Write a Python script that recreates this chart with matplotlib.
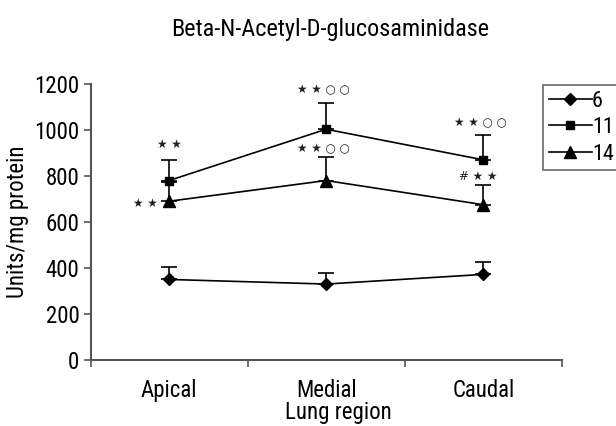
import numpy as np
import matplotlib
matplotlib.use("Agg")
import matplotlib.pyplot as plt
from matplotlib.lines import Line2D

plt.rcParams['font.family'] = ['Roboto Condensed', 'Liberation Sans', 'DejaVu Sans']

regions = ["Apical", "Medial", "Caudal"]
series_names = ["6", "11", "14"]
means = {
    "6": [350, 330, 372],
    "11": [780, 1003, 870],
    "14": [690, 780, 675],
}
errors = {
    "6": [55, 48, 55],
    "11": [90, 116, 108],
    "14": [85, 104, 86],
}
markers = {"6": "D", "11": "s", "14": "^"}
msizes = {"6": 6.5, "11": 5.5, "14": 8}

# significance marks: (x, y, text, ha)
marks = [
    (0, 935, "\u2605 \u2605", "center"),
    (-0.07, 680, "\u2605 \u2605", "right"),
    (0.98, 1174, "\u2605 \u2605 \u25cb \u25cb", "center"),
    (0.98, 917, "\u2605 \u2605 \u25cb \u25cb", "center"),
    (1.98, 1030, "\u2605 \u2605 \u25cb \u25cb", "center"),
    (1.97, 796, "# \u2605 \u2605", "center"),
]

fig = plt.figure(figsize=(6.16, 4.26), dpi=100)
ax = fig.add_axes([0.147, 0.155, 0.765, 0.648])

x = np.arange(len(regions))
for name in series_names:
    y = np.array(means[name])
    err = np.array(errors[name])
    ax.errorbar(x, y, yerr=[np.zeros_like(err), err], color="black",
                marker=markers[name], markersize=msizes[name], lw=1.2,
                elinewidth=1.2, capsize=5.5, capthick=1.2)

for mx, my, txt, ha in marks:
    ax.text(mx, my, txt, ha=ha, va="center", fontsize=8.5,
            family=['DejaVu Sans'], color="#222222")

ax.set_xlim(-0.5, 2.5)
ax.set_ylim(0, 1200)
ax.set_yticks(range(0, 1201, 200))
ax.set_xticks([-0.5, 0.5, 1.5, 2.5])
ax.set_xticklabels([])
ax.set_xticks(x, minor=True)
ax.set_xticklabels(regions, minor=True)
ax.tick_params(axis="x", which="minor", length=0, pad=14, labelsize=16.5)
ax.tick_params(axis="both", which="major", length=5, width=1.2,
               color="#555555", labelsize=16.5, pad=3)

for s in ["top", "right"]:
    ax.spines[s].set_visible(False)
for s in ["left", "bottom"]:
    ax.spines[s].set_color("#555555")
    ax.spines[s].set_linewidth(1.5)

ax.set_ylabel("Units/mg protein", fontsize=16.5, labelpad=4)
ax.set_xlabel("Lung region", fontsize=16.5)
ax.xaxis.set_label_coords(0.525, -0.19)
ax.xaxis.label.set_va("center")
fig.text(0.536, 0.93, "Beta-N-Acetyl-D-glucosaminidase", ha="center",
         va="center", fontsize=17.5)

handles = [Line2D([], [], color="black", lw=1.2, marker=markers[n],
                  markersize=msizes[n]) for n in series_names]
leg = fig.legend(handles, series_names, loc="upper left",
                 bbox_to_anchor=(543 / 616, 1 - 85 / 426),
                 fontsize=16, frameon=True, fancybox=False,
                 handlelength=1.95, handletextpad=0.0, labelspacing=0.25,
                 borderpad=0.25, borderaxespad=0)
leg.get_frame().set_edgecolor("#444444")
leg.get_frame().set_linewidth(1.2)

fig.savefig("out.png", dpi=100)
